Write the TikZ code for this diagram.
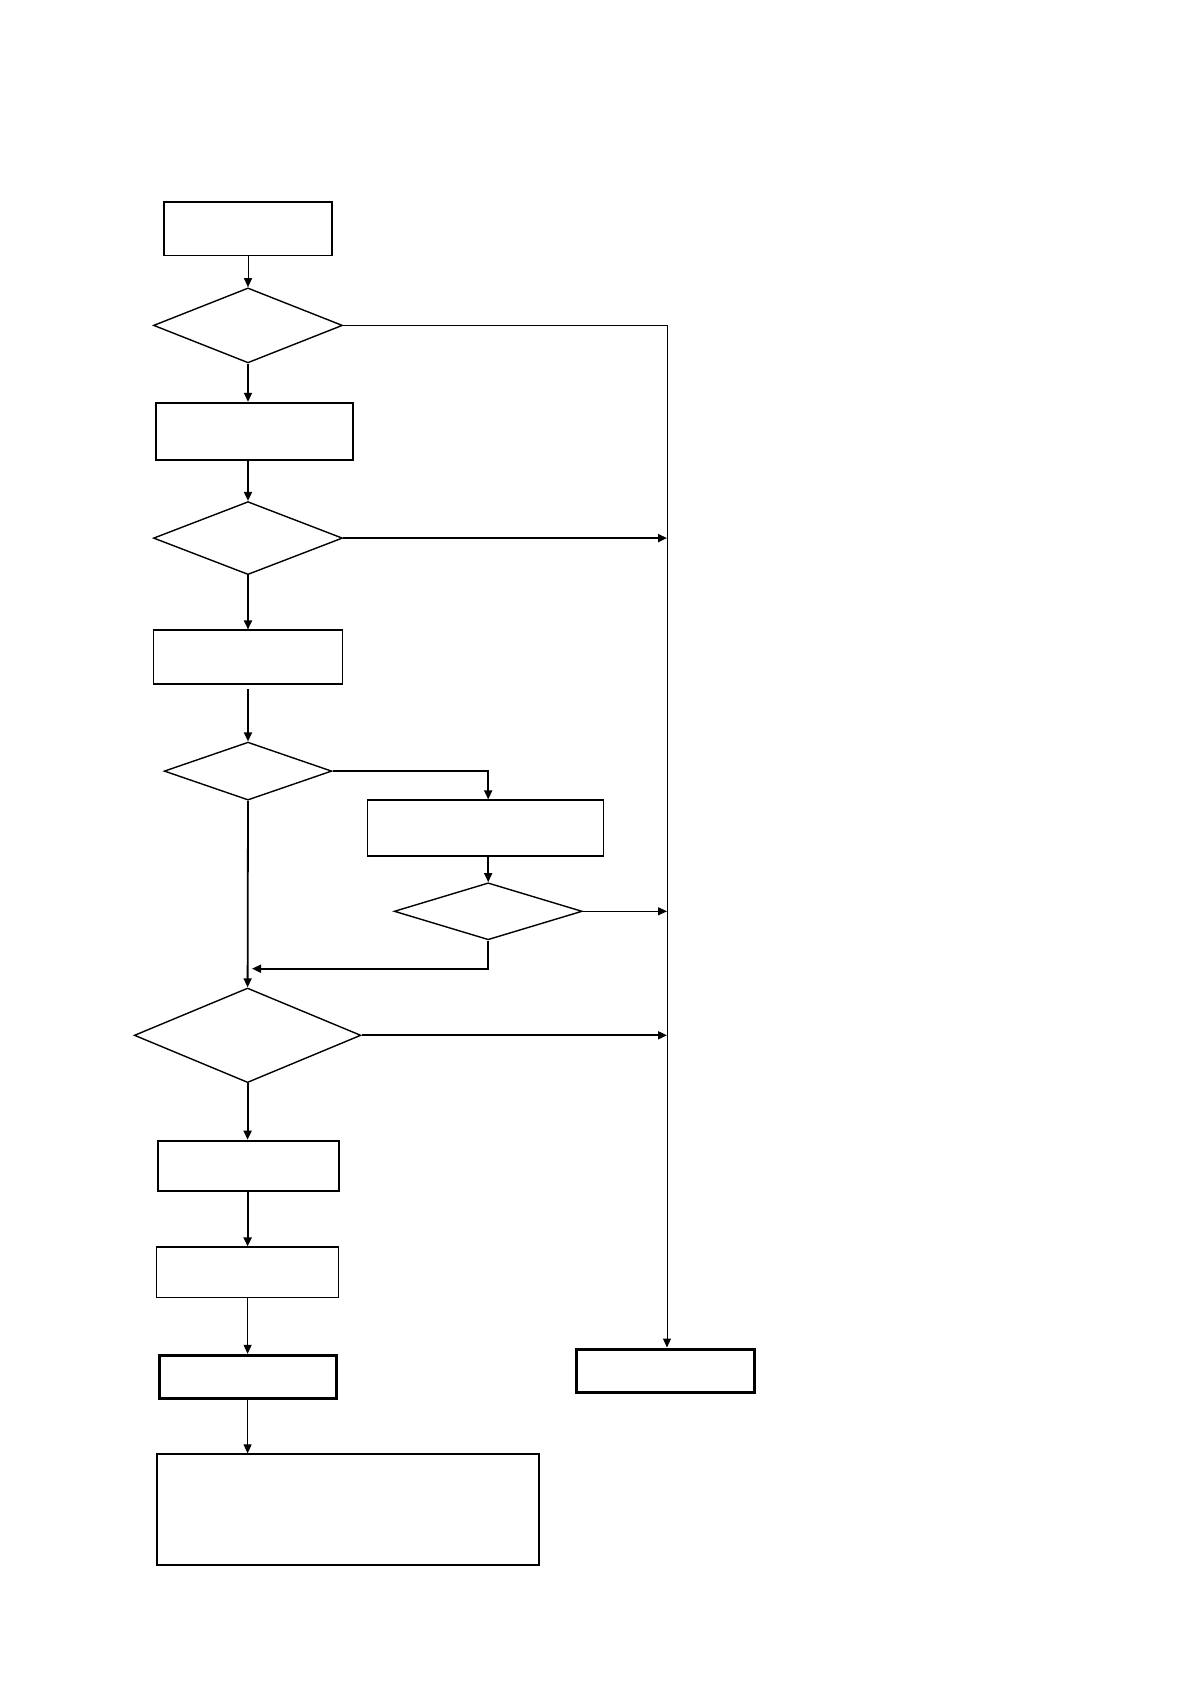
\documentclass[tikz,border=0pt]{standalone}
\usetikzlibrary{shapes.geometric,arrows.meta,calc}
\begin{document}
\begin{tikzpicture}[x=1pt,y=-1pt,
  boxnode/.style={draw,rectangle,inner sep=0pt,line width=1.8pt},
  decnode/.style={draw,diamond,inner sep=0pt,line width=1.4pt},
  arr/.style={-{Triangle[length=9pt,width=8pt]},line width=1.8pt},
  thinarr/.style={-{Triangle[length=9pt,width=8pt]},line width=1pt},
  plain/.style={line width=1.8pt}]
\useasboundingbox (0,0) rectangle (1190,1684);
% nodes
\node[boxnode,minimum width=167.6pt,minimum height=53.7pt] (b1) at (248,228.7) {};
\node[decnode,minimum width=189pt,minimum height=75pt] (d1) at (248,325.4) {};
\node[boxnode,minimum width=197.6pt,minimum height=57pt] (b2) at (254.5,431.2) {};
\node[decnode,minimum width=189pt,minimum height=73pt] (d2) at (248,538.1) {};
\node[boxnode,minimum width=189pt,minimum height=53.7pt] (b3) at (248,657.2) {};
\node[decnode,minimum width=167.6pt,minimum height=58pt] (d3) at (248,771.1) {};
\node[boxnode,line width=1.2pt,minimum width=236.3pt,minimum height=56pt] (b4) at (485.5,828) {};
\node[decnode,minimum width=188pt,minimum height=57pt] (d4) at (488.2,911.3) {};
\node[decnode,minimum width=226.6pt,minimum height=94.6pt] (d5) at (247.6,1035.3) {};
\node[boxnode,minimum width=181.5pt,minimum height=50.4pt] (b5) at (248.6,1165.8) {};
\node[boxnode,line width=1.2pt,minimum width=181.5pt,minimum height=50.4pt] (b6) at (247.5,1272.2) {};
\node[boxnode,line width=3pt,minimum width=177.2pt,minimum height=43pt] (b7) at (247.6,1376.8) {};
\node[boxnode,line width=1.6pt,minimum width=382.3pt,minimum height=110.6pt] (b8) at (348,1509.5) {};
\node[boxnode,line width=3pt,minimum width=177.3pt,minimum height=43pt] (b9) at (665.4,1370.5) {};
% helper coordinates
\coordinate (R1) at (667,325.4);
\coordinate (R2) at (667,538.1);
\coordinate (R4) at (667,911.3);
\coordinate (R5) at (667,1035.3);
\coordinate (J3) at (488.2,771.1);
\coordinate (J4) at (488.2,968.7);
\coordinate (J4e) at (252,968.7);
% connectors
\draw[thinarr] (b1.south) -- (d1.north);
\draw[plain] (d1.east) -- (R1);
\draw[thinarr] (R1) -- (R1 |- b9.north);
\draw[arr] (d1.south) -- (d1.south |- b2.north);
\draw[arr] (d1.south |- b2.south) -- (d2.north);
\draw[arr] (d2.east) -- (R2);
\draw[arr] (d2.south) -- (b3.north);
\draw[arr] ([yshift=-4pt]b3.south) -- (d3.north);
\draw[arr] (d3.east) -- (J3) -- (d4.north |- b4.north);
\draw[arr] (d4.north |- b4.south) -- (d4.north);
\draw[thinarr] (d4.east) -- (R4);
\draw[arr] (d4.south) -- (J4) -- (J4e);
\draw[arr] (d3.south) -- (d5.north);
\draw[arr] (d5.east) -- (R5);
\draw[arr] (d5.south) -- (d5.south |- b5.north);
\draw[arr,line width=2.2pt] (d5.south |- b5.south) -- (d5.south |- b6.north);
\draw[thinarr] (d5.south |- b6.south) -- (d5.south |- b7.north);
\draw[thinarr] (d5.south |- b7.south) -- (d5.south |- b8.north);
\end{tikzpicture}
\end{document}
